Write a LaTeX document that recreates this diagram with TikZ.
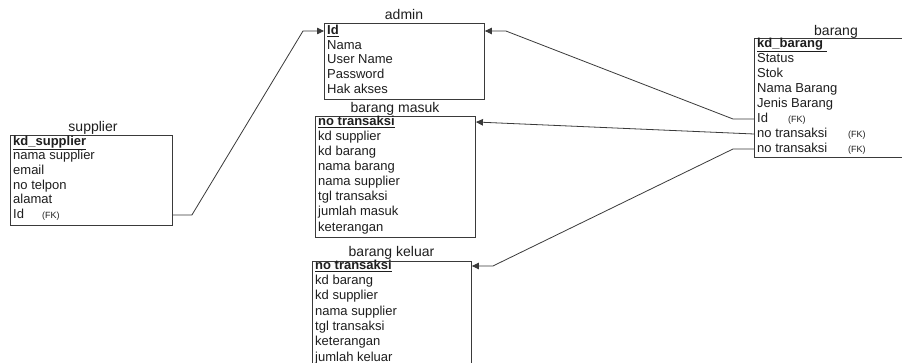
\documentclass[tikz,border=0pt]{standalone}
\usepackage{fontspec}
\setmainfont{Liberation Sans}
\usetikzlibrary{arrows.meta,calc}
\definecolor{ink}{HTML}{1E1E1E}
\definecolor{edge}{HTML}{3A3A3A}
\tikzset{
  ebox/.style={draw=edge, line width=0.9pt, inner sep=0pt, anchor=north west},
  etitle/.style={inner sep=0pt, text=ink, font=\fontsize{14}{16}\selectfont, anchor=base},
  attr/.style={inner sep=0pt, text=ink, anchor=west, text height=9.3pt, text depth=2.6pt,
    font=\fontsize{13}{15}\selectfont},
  fk/.style={inner sep=0pt, text=ink, anchor=west, text height=6.5pt, text depth=2pt,
    font=\fontsize{9}{11}\selectfont},
  rel/.style={draw=edge, line width=0.8pt, -{Triangle[length=7pt,width=6.5pt]}},
}
\begin{document}
\begin{tikzpicture}[x=1pt,y=-1pt]
\useasboundingbox (0,0) rectangle (902,363);
\clip (0,0) rectangle (902,363);
\fill[white] (0,0) rectangle (902,363);

% supplier
\node[ebox, minimum width=162pt, minimum height=90pt] (supplier) at (10,135) {};
\node[etitle] (supT) at (93,132) {supplier};
\node[attr] (s1) at (13,142) {\textbf{\underline{kd\_supplier}}};
\node[attr] (s2) at (13,156.6) {nama supplier};
\node[attr] (s3) at (13,171.2) {email};
\node[attr] (s4) at (13,185.8) {no telpon};
\node[attr] (s5) at (13,200.4) {alamat};
\node[attr] (s6) at (13,215) {Id};
\node[fk] (s6fk) at (42,216) {(FK)};

% admin
\node[ebox, minimum width=160pt, minimum height=76pt] (admin) at (324,23) {};
\node[etitle] (admT) at (404,20) {admin};
\node[attr] (a1) at (327,31) {\textbf{\underline{Id}}};
\node[attr] (a2) at (327,45.75) {Nama};
\node[attr] (a3) at (327,60.5) {User Name};
\node[attr] (a4) at (327,75.25) {Password};
\node[attr] (a5) at (327,90) {Hak akses};

% barang masuk
\node[ebox, minimum width=160pt, minimum height=121pt] (masuk) at (315,116) {};
\node[etitle] (msT) at (395,113) {barang masuk};
\node[attr] (m1) at (318,122) {\textbf{\underline{no transaksi}}};
\node[attr] (m2) at (318,137.1) {kd supplier};
\node[attr] (m3) at (318,152.2) {kd barang};
\node[attr] (m4) at (318,167.3) {nama barang};
\node[attr] (m5) at (318,182.4) {nama supplier};
\node[attr] (m6) at (318,197.5) {tgl transaksi};
\node[attr] (m7) at (318,212.6) {jumlah masuk};
\node[attr] (m8) at (318,227.7) {keterangan};

% barang keluar
\node[ebox, minimum width=159pt, minimum height=115pt] (keluar) at (312,261) {};
\node[etitle] (klT) at (391.5,257) {barang keluar};
\node[attr] (k1) at (315,266) {\textbf{\underline{no transaksi}}};
\node[attr] (k2) at (315,281.3) {kd barang};
\node[attr] (k3) at (315,296.6) {kd supplier};
\node[attr] (k4) at (315,311.9) {nama supplier};
\node[attr] (k5) at (315,327.2) {tgl transaksi};
\node[attr] (k6) at (315,342.5) {keterangan};
\node[attr] (k7) at (315,357.8) {jumlah keluar};

% barang
\node[ebox, minimum width=164pt, minimum height=119pt] (barang) at (754,38) {};
\node[etitle] (brT) at (836,36) {barang};
\node[attr] (b1) at (757,44) {\textbf{\underline{kd\_barang\ }}};
\node[attr] (b2) at (757,59) {Status};
\node[attr] (b3) at (757,74) {Stok};
\node[attr] (b4) at (757,89) {Nama Barang};
\node[attr] (b5) at (757,104) {Jenis Barang};
\node[attr] (b6) at (757,119) {Id};
\node[fk] (b6fk) at (788,120) {(FK)};
\node[attr] (b7) at (757,134) {no transaksi};
\node[fk] (b7fk) at (848,135) {(FK)};
\node[attr] (b8) at (757,149) {no transaksi};
\node[fk] (b8fk) at (848,150) {(FK)};

% relations
\draw[rel] (s6.west -| supplier.east) -- ++(19,0)
  -- ($(a1.west -| admin.west)+(-21,0)$) -- (a1.west -| admin.west);
\draw[rel] (b6.west -| barang.west) -- ++(-21,0)
  -- ($(a1.west -| admin.east)+(21,0)$) -- (a1.west -| admin.east);
\draw[rel] (b7.west -| barang.west) -- (m1.west -| masuk.east);
\draw[rel] (b8.west -| barang.west) -- ++(-21,0)
  -- ($(k1.west -| keluar.east)+(21,0)$) -- (k1.west -| keluar.east);
\end{tikzpicture}
\end{document}
